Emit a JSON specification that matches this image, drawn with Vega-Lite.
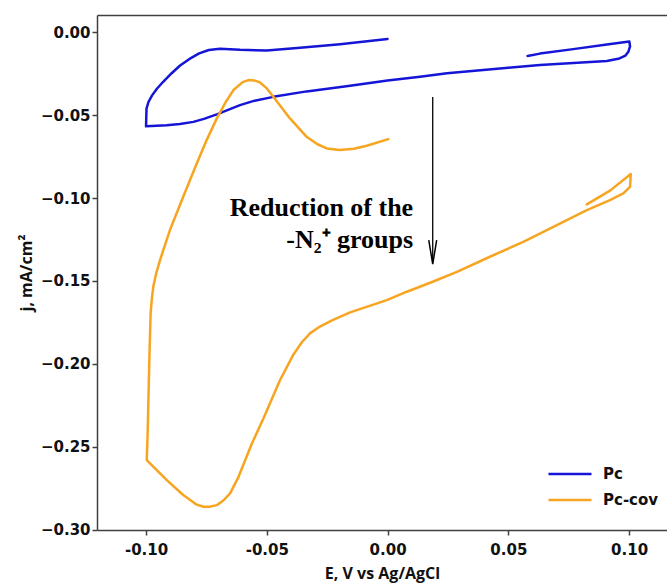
{
  "$schema": "https://vega.github.io/schema/vega-lite/v6.json",
  "autosize": "none",
  "padding": {"left": 97, "top": 15, "right": 0, "bottom": 54},
  "width": 570,
  "height": 515,
  "background": "white",
  "config": {
    "view": {"stroke": null},
    "axis": {
      "domainColor": "#404040",
      "domainWidth": 1.5,
      "tickColor": "#404040",
      "tickWidth": 1.5,
      "tickSize": 5,
      "grid": false,
      "labelFont": "DejaVu Sans",
      "labelFontWeight": "bold",
      "labelFontSize": 15,
      "labelColor": "#111",
      "titleFont": "Open Sans",
      "titleFontWeight": "bold",
      "titleFontSize": 16,
      "titleColor": "#111"
    },
    "legend": {
      "labelFont": "DejaVu Sans",
      "labelFontWeight": "bold",
      "labelFontSize": 15,
      "labelColor": "#111"
    }
  },
  "resolve": {"axis": {"x": "independent"}},
  "layer": [
    {
      "data": {
        "values": [
          {"s": "Pc", "i": 1, "E": 0.0580, "j": -0.0142},
          {"s": "Pc", "i": 2, "E": 0.0631, "j": -0.0128},
          {"s": "Pc", "i": 3, "E": 0.0769, "j": -0.0101},
          {"s": "Pc", "i": 4, "E": 0.0908, "j": -0.0073},
          {"s": "Pc", "i": 5, "E": 0.1001, "j": -0.0055},
          {"s": "Pc", "i": 6, "E": 0.1004, "j": -0.0085},
          {"s": "Pc", "i": 7, "E": 0.0997, "j": -0.0117},
          {"s": "Pc", "i": 8, "E": 0.0985, "j": -0.0140},
          {"s": "Pc", "i": 9, "E": 0.0960, "j": -0.0157},
          {"s": "Pc", "i": 10, "E": 0.0908, "j": -0.0172},
          {"s": "Pc", "i": 11, "E": 0.0631, "j": -0.0197},
          {"s": "Pc", "i": 12, "E": 0.0500, "j": -0.0213},
          {"s": "Pc", "i": 13, "E": 0.0246, "j": -0.0247},
          {"s": "Pc", "i": 14, "E": 0.0135, "j": -0.0267},
          {"s": "Pc", "i": 15, "E": 0.0000, "j": -0.0290},
          {"s": "Pc", "i": 16, "E": -0.0155, "j": -0.0322},
          {"s": "Pc", "i": 17, "E": -0.0335, "j": -0.0356},
          {"s": "Pc", "i": 18, "E": -0.0473, "j": -0.0389},
          {"s": "Pc", "i": 19, "E": -0.0550, "j": -0.0412},
          {"s": "Pc", "i": 20, "E": -0.0611, "j": -0.0439},
          {"s": "Pc", "i": 21, "E": -0.0707, "j": -0.0495},
          {"s": "Pc", "i": 22, "E": -0.0760, "j": -0.0522},
          {"s": "Pc", "i": 23, "E": -0.0804, "j": -0.0540},
          {"s": "Pc", "i": 24, "E": -0.0860, "j": -0.0553},
          {"s": "Pc", "i": 25, "E": -0.0914, "j": -0.0560},
          {"s": "Pc", "i": 26, "E": -0.1000, "j": -0.0567},
          {"s": "Pc", "i": 27, "E": -0.0998, "j": -0.0460},
          {"s": "Pc", "i": 28, "E": -0.0990, "j": -0.0420},
          {"s": "Pc", "i": 29, "E": -0.0975, "j": -0.0380},
          {"s": "Pc", "i": 30, "E": -0.0955, "j": -0.0340},
          {"s": "Pc", "i": 31, "E": -0.0929, "j": -0.0298},
          {"s": "Pc", "i": 32, "E": -0.0895, "j": -0.0248},
          {"s": "Pc", "i": 33, "E": -0.0859, "j": -0.0200},
          {"s": "Pc", "i": 34, "E": -0.0820, "j": -0.0160},
          {"s": "Pc", "i": 35, "E": -0.0780, "j": -0.0127},
          {"s": "Pc", "i": 36, "E": -0.0740, "j": -0.0106},
          {"s": "Pc", "i": 37, "E": -0.0694, "j": -0.0099},
          {"s": "Pc", "i": 38, "E": -0.0611, "j": -0.0105},
          {"s": "Pc", "i": 39, "E": -0.0500, "j": -0.0109},
          {"s": "Pc", "i": 40, "E": -0.0362, "j": -0.0093},
          {"s": "Pc", "i": 41, "E": -0.0197, "j": -0.0071},
          {"s": "Pc", "i": 42, "E": 0.0000, "j": -0.0040},
          {"s": "Pc-cov", "i": 1, "E": 0.0825, "j": -0.1038},
          {"s": "Pc-cov", "i": 2, "E": 0.0921, "j": -0.0955},
          {"s": "Pc-cov", "i": 3, "E": 0.1007, "j": -0.0855},
          {"s": "Pc-cov", "i": 4, "E": 0.1004, "j": -0.0932},
          {"s": "Pc-cov", "i": 5, "E": 0.0976, "j": -0.0972},
          {"s": "Pc-cov", "i": 6, "E": 0.0921, "j": -0.1012},
          {"s": "Pc-cov", "i": 7, "E": 0.0825, "j": -0.1072},
          {"s": "Pc-cov", "i": 8, "E": 0.0701, "j": -0.1163},
          {"s": "Pc-cov", "i": 9, "E": 0.0562, "j": -0.1264},
          {"s": "Pc-cov", "i": 10, "E": 0.0424, "j": -0.1354},
          {"s": "Pc-cov", "i": 11, "E": 0.0287, "j": -0.1445},
          {"s": "Pc-cov", "i": 12, "E": 0.0187, "j": -0.1505},
          {"s": "Pc-cov", "i": 13, "E": 0.0080, "j": -0.1565},
          {"s": "Pc-cov", "i": 14, "E": -0.0003, "j": -0.1616},
          {"s": "Pc-cov", "i": 15, "E": -0.0155, "j": -0.1690},
          {"s": "Pc-cov", "i": 16, "E": -0.0230, "j": -0.1738},
          {"s": "Pc-cov", "i": 17, "E": -0.0280, "j": -0.1775},
          {"s": "Pc-cov", "i": 18, "E": -0.0320, "j": -0.1815},
          {"s": "Pc-cov", "i": 19, "E": -0.0355, "j": -0.1870},
          {"s": "Pc-cov", "i": 20, "E": -0.0390, "j": -0.1945},
          {"s": "Pc-cov", "i": 21, "E": -0.0445, "j": -0.2098},
          {"s": "Pc-cov", "i": 22, "E": -0.0514, "j": -0.2330},
          {"s": "Pc-cov", "i": 23, "E": -0.0563, "j": -0.2485},
          {"s": "Pc-cov", "i": 24, "E": -0.0617, "j": -0.2682},
          {"s": "Pc-cov", "i": 25, "E": -0.0652, "j": -0.2782},
          {"s": "Pc-cov", "i": 26, "E": -0.0680, "j": -0.2825},
          {"s": "Pc-cov", "i": 27, "E": -0.0707, "j": -0.2853},
          {"s": "Pc-cov", "i": 28, "E": -0.0735, "j": -0.2862},
          {"s": "Pc-cov", "i": 29, "E": -0.0762, "j": -0.2863},
          {"s": "Pc-cov", "i": 30, "E": -0.0790, "j": -0.2850},
          {"s": "Pc-cov", "i": 31, "E": -0.0846, "j": -0.2792},
          {"s": "Pc-cov", "i": 32, "E": -0.0914, "j": -0.2702},
          {"s": "Pc-cov", "i": 33, "E": -0.0997, "j": -0.2581},
          {"s": "Pc-cov", "i": 34, "E": -0.0993, "j": -0.2405},
          {"s": "Pc-cov", "i": 35, "E": -0.0986, "j": -0.1958},
          {"s": "Pc-cov", "i": 36, "E": -0.0981, "j": -0.1696},
          {"s": "Pc-cov", "i": 37, "E": -0.0976, "j": -0.1610},
          {"s": "Pc-cov", "i": 38, "E": -0.0970, "j": -0.1535},
          {"s": "Pc-cov", "i": 39, "E": -0.0958, "j": -0.1455},
          {"s": "Pc-cov", "i": 40, "E": -0.0942, "j": -0.1374},
          {"s": "Pc-cov", "i": 41, "E": -0.0922, "j": -0.1285},
          {"s": "Pc-cov", "i": 42, "E": -0.0901, "j": -0.1193},
          {"s": "Pc-cov", "i": 43, "E": -0.0846, "j": -0.0992},
          {"s": "Pc-cov", "i": 44, "E": -0.0790, "j": -0.0791},
          {"s": "Pc-cov", "i": 45, "E": -0.0749, "j": -0.0650},
          {"s": "Pc-cov", "i": 46, "E": -0.0707, "j": -0.0519},
          {"s": "Pc-cov", "i": 47, "E": -0.0670, "j": -0.0420},
          {"s": "Pc-cov", "i": 48, "E": -0.0638, "j": -0.0348},
          {"s": "Pc-cov", "i": 49, "E": -0.0600, "j": -0.0300},
          {"s": "Pc-cov", "i": 50, "E": -0.0576, "j": -0.0288},
          {"s": "Pc-cov", "i": 51, "E": -0.0550, "j": -0.0291},
          {"s": "Pc-cov", "i": 52, "E": -0.0528, "j": -0.0302},
          {"s": "Pc-cov", "i": 53, "E": -0.0500, "j": -0.0338},
          {"s": "Pc-cov", "i": 54, "E": -0.0473, "j": -0.0389},
          {"s": "Pc-cov", "i": 55, "E": -0.0404, "j": -0.0519},
          {"s": "Pc-cov", "i": 56, "E": -0.0335, "j": -0.0630},
          {"s": "Pc-cov", "i": 57, "E": -0.0290, "j": -0.0675},
          {"s": "Pc-cov", "i": 58, "E": -0.0252, "j": -0.0700},
          {"s": "Pc-cov", "i": 59, "E": -0.0197, "j": -0.0710},
          {"s": "Pc-cov", "i": 60, "E": -0.0140, "j": -0.0702},
          {"s": "Pc-cov", "i": 61, "E": -0.0086, "j": -0.0684},
          {"s": "Pc-cov", "i": 62, "E": 0.0003, "j": -0.0644}
        ]
      },
      "mark": {"type": "line", "strokeWidth": 2.5, "strokeCap": "round", "strokeJoin": "round"},
      "encoding": {
        "x": {
          "field": "E", "type": "quantitative",
          "scale": {"domain": [-0.1203, 0.1157], "nice": false, "zero": false},
          "axis": {
            "orient": "bottom",
            "title": "E, V vs Ag/AgCl",
            "values": [-0.1, -0.05, 0, 0.05, 0.1],
            "labelExpr": "replace(format(datum.value, '.2f'), '\u2212', '-')",
            "labelPadding": 7,
            "titlePadding": 8
          }
        },
        "y": {
          "field": "j", "type": "quantitative",
          "scale": {"domain": [-0.3003, 0.0105], "nice": false, "zero": false},
          "axis": {
            "title": "j, mA/cm\u00b2",
            "values": [0, -0.05, -0.1, -0.15, -0.2, -0.25, -0.3],
            "format": ".2f",
            "labelPadding": 2,
            "titlePadding": 6
          }
        },
        "order": {"field": "i", "type": "quantitative"},
        "color": {
          "field": "s", "type": "nominal",
          "scale": {"domain": ["Pc", "Pc-cov"], "range": ["#1515d8", "#f7a520"]},
          "legend": {
            "title": null,
            "orient": "none",
            "legendX": 458,
            "legendY": 444,
            "padding": 0,
            "symbolType": "M-1.6,0H1.6",
            "symbolSize": 723,
            "symbolStrokeWidth": 2.5,
            "symbolFillColor": "transparent",
            "rowPadding": 3,
            "labelOffset": 18
          }
        }
      }
    },
    {
      "data": {"values": [{"E": 0.0187, "j1": -0.0390, "j2": -0.1390}]},
      "mark": {"type": "rule", "color": "black", "strokeWidth": 1.3},
      "encoding": {
        "x": {
          "field": "E", "type": "quantitative",
          "axis": {"orient": "top", "labels": false, "ticks": false, "title": null, "domain": true}
        },
        "y": {"field": "j1", "type": "quantitative"},
        "y2": {"field": "j2"}
      }
    },
    {
      "data": {"values": [{"E": 0.0187, "j": -0.1326}]},
      "mark": {
        "type": "point",
        "shape": "M-0.33,-1L0,1L0.33,-1",
        "size": 576,
        "filled": false,
        "stroke": "black",
        "strokeWidth": 1.5,
        "opacity": 1
      },
      "encoding": {
        "x": {"field": "E", "type": "quantitative", "axis": null},
        "y": {"field": "j", "type": "quantitative"}
      }
    },
    {
      "data": {
        "values": [
          {"E": 0.0106, "j": -0.1106, "t": "Reduction of the"},
          {"E": 0.0106, "j": -0.1299, "t": "-N\u2082\u207a groups"}
        ]
      },
      "mark": {
        "type": "text",
        "align": "right",
        "baseline": "alphabetic",
        "font": "Liberation Serif",
        "fontWeight": "bold",
        "fontSize": 26,
        "color": "black"
      },
      "encoding": {
        "x": {"field": "E", "type": "quantitative", "axis": null},
        "y": {"field": "j", "type": "quantitative"},
        "text": {"field": "t"}
      }
    }
  ]
}
